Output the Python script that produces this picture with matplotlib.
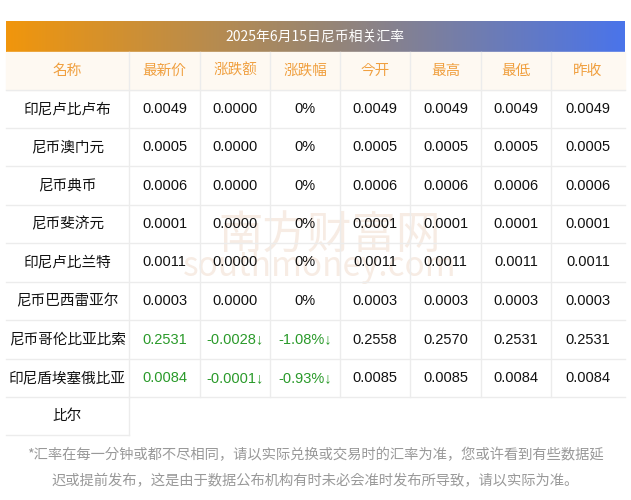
import numpy as np
import matplotlib.pyplot as plt
from matplotlib import font_manager
from matplotlib.colors import LinearSegmentedColormap

cjk = [f.name for f in font_manager.fontManager.ttflist if 'CJK' in f.name]
fam = 'Noto Sans CJK SC' if 'Noto Sans CJK SC' in cjk else (cjk[0] if cjk else 'DejaVu Sans')
plt.rcParams['font.family'] = fam
num_font = ['Liberation Sans', fam]

title = '2025年6月15日尼币相关汇率'
headers = ['名称', '最新价', '涨跌额', '涨跌幅', '今开', '最高', '最低', '昨收']
names = ['印尼卢比卢布', '尼币澳门元', '尼币典币', '尼币斐济元', '印尼卢比兰特',
         '尼币巴西雷亚尔', '尼币哥伦比亚比索', '印尼盾埃塞俄比亚\n比尔']
latest = ['0.0049', '0.0005', '0.0006', '0.0001', '0.0011', '0.0003', '0.2531', '0.0084']
change = ['0.0000', '0.0000', '0.0000', '0.0000', '0.0000', '0.0000', '-0.0028↓', '-0.0001↓']
pct = ['0%', '0%', '0%', '0%', '0%', '0%', '-1.08%↓', '-0.93%↓']
open_ = ['0.0049', '0.0005', '0.0006', '0.0001', '0.0011', '0.0003', '0.2558', '0.0085']
high = ['0.0049', '0.0005', '0.0006', '0.0001', '0.0011', '0.0003', '0.2570', '0.0085']
low = ['0.0049', '0.0005', '0.0006', '0.0001', '0.0011', '0.0003', '0.2531', '0.0084']
prev = ['0.0049', '0.0005', '0.0006', '0.0001', '0.0011', '0.0003', '0.2531', '0.0084']
footer = ['*汇率在每一分钟或都不尽相同，请以实际兑换或交易时的汇率为准，您或许看到有些数据延',
          '迟或提前发布，这是由于数据公布机构有时未必会准时发布所导致，请以实际为准。']

col_x = [6, 129, 200, 270, 340, 410, 481, 551, 625]
row_y = [52, 90, 128, 166, 205, 243, 282, 320, 359, 397]
line_c = '#ececec'

fig = plt.figure(figsize=(6.31, 5.0), dpi=100)
ax = fig.add_axes([0, 0, 1, 1])
ax.set_xlim(0, 631)
ax.set_ylim(500, 0)
ax.axis('off')

# title bar gradient
cmap = LinearSegmentedColormap.from_list('tb', ['#f1960c', '#9a8670', '#4a74ea'])
ax.imshow(np.linspace(0, 1, 256)[None, :], cmap=cmap, aspect='auto',
          extent=[6, 625, 52, 21], zorder=1)
ax.text(315.5, 36.5, title, color='white', fontsize=10, ha='center', va='center', zorder=3)

# header row
ax.add_patch(plt.Rectangle((6, 52), 619, 38, color='#fef9f2', zorder=1))
for j, h in enumerate(headers):
    ax.text((col_x[j] + col_x[j + 1]) / 2, 71, h, color='#f0a040', fontsize=10.5,
            ha='center', va='center', zorder=3)

# grid lines
for y in row_y[1:]:
    ax.plot([6, 625], [y, y], color=line_c, lw=1, zorder=2)
ax.plot([6, 129], [435, 435], color=line_c, lw=1, zorder=2)
for x in col_x[1:-1]:
    ax.plot([x, x], [52, 397], color=line_c, lw=1, zorder=2)
ax.plot([129, 129], [397, 435], color=line_c, lw=1, zorder=2)

# faint watermark
ax.text(330, 236, '南方财富网', color='#f7ece4', fontsize=32, ha='center', va='center',
        style='italic', zorder=0)
ax.text(320, 266, 'southmoney.com', color='#f7ece4', fontsize=24, ha='center',
        va='center', style='italic', zorder=0)

cols = [latest, change, pct, open_, high, low, prev]
for i, name in enumerate(names):
    yc = (row_y[i + 1] + row_y[i + 2]) / 2
    parts = name.split('\n')
    for k, p in enumerate(parts):
        ax.text(67.5, yc + 38 * k, p, fontsize=10.5, ha='center', va='center',
                color='#111111', zorder=3)
    for j, col in enumerate(cols):
        c = '#2a9a2a' if (j < 3 and change[i].startswith('-')) else '#111111'
        ax.text((col_x[j + 1] + col_x[j + 2]) / 2, yc, col[i], fontsize=10.5,
                family=num_font, ha='center', va='center', color=c, zorder=3)

ax.text(315.5, 455, footer[0], fontsize=10.3, ha='center', va='center', color='#999999')
ax.text(315.5, 481, footer[1], fontsize=10.3, ha='center', va='center', color='#999999')

fig.savefig('out.png', dpi=100)
